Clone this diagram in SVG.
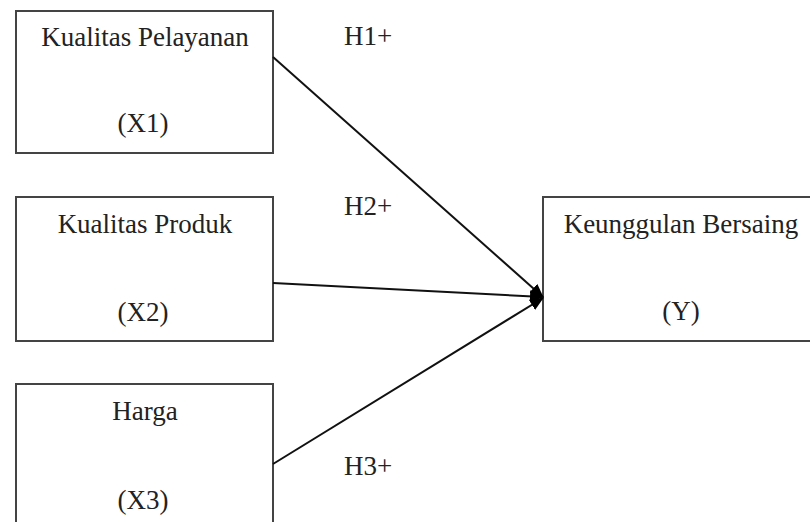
<svg xmlns="http://www.w3.org/2000/svg" width="810" height="522" viewBox="0 0 810 522">
<style>
.box{fill:#fff;stroke:#444;stroke-width:2}
.t{font-family:"Liberation Serif","Times New Roman",serif;font-size:27px;fill:#222;text-anchor:middle}
.h{font-family:"Liberation Serif","Times New Roman",serif;font-size:27px;fill:#222}
.c{stroke:#111;stroke-width:2;fill:none;marker-end:url(#arr)}
</style>
<defs>
<marker id="arr" markerUnits="userSpaceOnUse" markerWidth="14" markerHeight="14" viewBox="0 0 14 14" refX="13" refY="7" orient="auto">
<path d="M0,1 L14,7 L0,13 Z" fill="#000"/>
</marker>
</defs>
<rect width="810" height="522" fill="#fff"/>
<g id="x1">
<rect class="box" x="16" y="11" width="257" height="142"/>
<text class="t" x="145" y="46">Kualitas Pelayanan</text>
<text class="t" x="143" y="132">(X1)</text>
</g>
<g id="x2">
<rect class="box" x="16" y="197" width="257" height="144"/>
<text class="t" x="145" y="233">Kualitas Produk</text>
<text class="t" x="143" y="321">(X2)</text>
</g>
<g id="x3">
<rect class="box" x="16" y="384" width="257" height="150"/>
<text class="t" x="145" y="420">Harga</text>
<text class="t" x="143" y="509">(X3)</text>
</g>
<g id="y">
<rect class="box" x="543" y="197" width="280" height="144"/>
<text class="t" x="681" y="233">Keunggulan Bersaing</text>
<text class="t" x="681" y="320">(Y)</text>
</g>
<g id="connectors">
<line class="c" x1="273" y1="57" x2="543" y2="297"/>
<line class="c" x1="273" y1="283" x2="543" y2="297"/>
<line class="c" x1="273" y1="464" x2="543" y2="298"/>
</g>
<g id="labels">
<text class="h" x="344" y="45">H1+</text>
<text class="h" x="344" y="215">H2+</text>
<text class="h" x="344" y="475">H3+</text>
</g>
</svg>
